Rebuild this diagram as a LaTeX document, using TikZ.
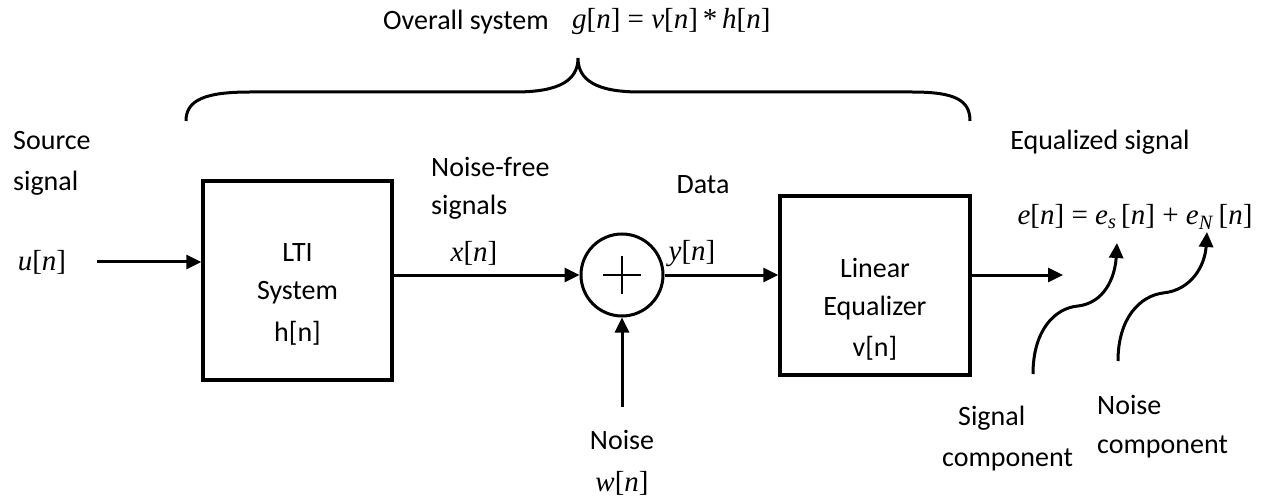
\documentclass[tikz,border=0pt]{standalone}
\usepackage{fontspec}
\setmainfont{Carlito}
\newfontfamily\tnr{Liberation Serif}
\usetikzlibrary{arrows.meta}
\tikzset{
  blk/.style={draw, line width=3.5pt, inner sep=0pt},
  lbl/.style={font=\fontsize{28}{41}\selectfont, inner sep=0pt},
  mth/.style={font=\tnr\fontsize{29}{34}\selectfont, inner sep=0pt},
  conn/.style={line width=3pt, -{Triangle[length=15pt,width=14pt]}},
  curvy/.style={line width=3pt, -{Triangle[length=15pt,width=14pt]}},
  bracepath/.style={line width=3pt},
}
\begin{document}
\begin{tikzpicture}[x=1pt,y=-1pt]
\useasboundingbox (0,0) rectangle (1272,497);
% title
\node[lbl, anchor=west] (ttl) at (383,22) {Overall system};
\node[mth, anchor=west] (ttlm) at (572,22) {\textit{g}[\textit{n}] = \textit{v}[\textit{n}]\,*\,\textit{h}[\textit{n}]};
% brace
\draw[bracepath] (186,121) .. controls (186,100) and (205,92) .. (250,92) -- (515,92)
  .. controls (560,92) and (578,80) .. (578,58)
  .. controls (578,80) and (596,92) .. (640,92) -- (912,92)
  .. controls (955,92) and (970,100) .. (970,121);
% source
\node[lbl, anchor=west] (src1) at (13,141) {Source};
\node[lbl, anchor=west] (src2) at (13,183) {signal};
\node[mth] (u) at (42,262) {\textit{u}[\textit{n}]};
\coordinate (uin) at (97,262);
% LTI
\node[blk, minimum width=189pt, minimum height=199pt] (lti) at (297.5,280.5) {};
\node[lbl] (lti1) at (297.5,253) {LTI};
\node[lbl] (lti2) at (297.5,293) {System};
\node[lbl] (lti3) at (297.5,333) {h[n]};
\draw[conn] (uin) -- (lti.west |- uin);
% sum
\node[draw, circle, line width=3pt, minimum size=82pt, inner sep=0pt] (sum) at (622,275) {};
\draw[line width=2.5pt] ([xshift=-19pt]sum.center) -- ([xshift=19pt]sum.center);
\draw[line width=2.5pt] ([yshift=-19pt]sum.center) -- ([yshift=19pt]sum.center);
\draw[conn] (sum.west -| lti.east) -- (sum.west);
\node[lbl, anchor=west] (nf1) at (431,167) {Noise-free};
\node[lbl, anchor=west] (nf2) at (431,207) {signals};
\node[mth] (xn) at (474,253) {\textit{x}[\textit{n}]};
% noise
\coordinate (win) at (622,407);
\draw[conn] (win) -- (sum.south);
\node[lbl] (noise) at (622,440) {Noise};
\node[mth] (wn) at (622,483) {\textit{w}[\textit{n}]};
% data
\node[lbl] (data) at (703,185) {Data};
\node[mth] (yn) at (692,254) {\textit{y}[\textit{n}]};
% equalizer
\node[blk, minimum width=190pt, minimum height=179pt] (eq) at (875,285.5) {};
\node[lbl] (eq1) at (875,268) {Linear};
\node[lbl] (eq2) at (875,308) {Equalizer};
\node[lbl] (eq3) at (875,348) {v[n]};
\draw[conn] (sum.east) -- (eq.west |- sum.east);
\coordinate (eout) at (1063,275);
\draw[conn] (eq.east |- eout) -- (eout);
% output
\node[lbl] (eqs) at (1100,142) {Equalized signal};
\node[mth] (eqn) at (1135,217) {\textit{e}[\textit{n}] = \textit{e}\textsubscript{\textit{s}}\,[\textit{n}] + \textit{e}\textsubscript{\textit{N}}\,[\textit{n}]};
\coordinate (sigbot) at (1033,374);
\coordinate (sigtip) at (1117,243);
\coordinate (noibot) at (1118,361);
\coordinate (noitip) at (1207,232);
\draw[curvy] (sigbot) .. controls (1033,330) and (1055,308) .. (1078,306)
  .. controls (1104,303) and (1115,278) .. (sigtip);
\draw[curvy] (noibot) .. controls (1118,318) and (1140,296) .. (1163,293)
  .. controls (1192,290) and (1205,265) .. (noitip);
\node[lbl, anchor=west] (sc1) at (958,418) {Signal};
\node[lbl, anchor=west] (sc2) at (942,460) {component};
\node[lbl, anchor=west] (nc1) at (1097,405) {Noise};
\node[lbl, anchor=west] (nc2) at (1097,447) {component};
\end{tikzpicture}
\end{document}
